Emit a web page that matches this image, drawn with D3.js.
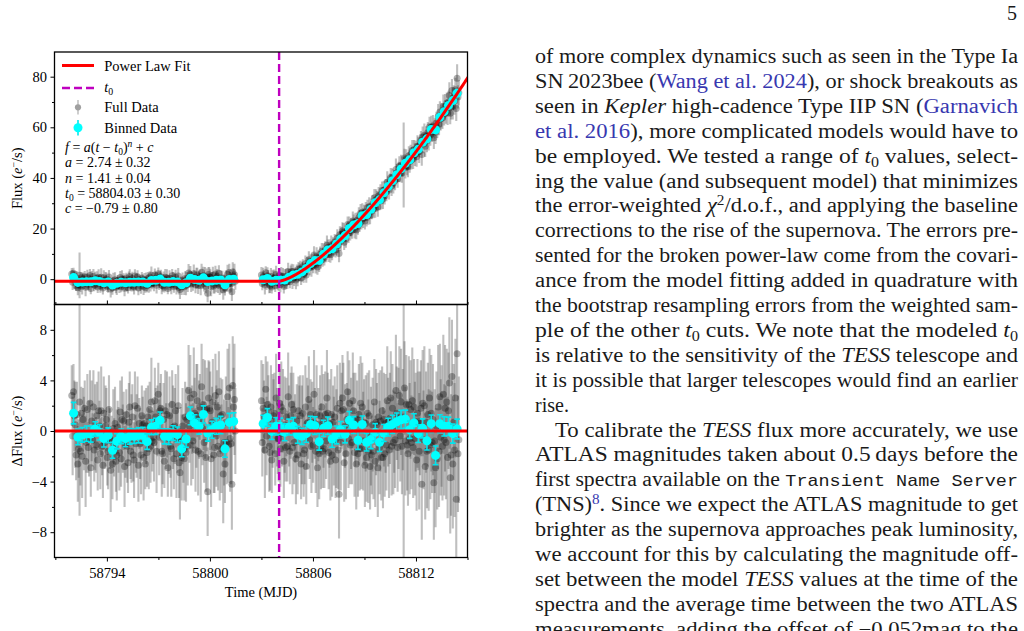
<!DOCTYPE html>
<html>
<head>
<meta charset="utf-8">
<script src="https://cdn.jsdelivr.net/npm/d3@7"></script>
<style>
  html, body { margin: 0; padding: 0; background: #fff; }
  svg { display: block; }
  text, tspan { font-family: 'Liberation Serif', 'DejaVu Serif', serif; }
  tspan.mono { font-family: 'Liberation Mono', 'DejaVu Sans Mono', monospace; }
</style>
</head>
<body>
<svg id="page" width="1024" height="631"></svg>
<script>
// ---- fit parameters (shown in the figure) ----
const fitA = 2.74, fitN = 1.41, fitT0 = 58804.03, fitC = -0.79;

// ---- full data: residuals (e-/s) and errors, one per cadence ----
const seg1Start = 58791.955, seg1Step = 0.0504;
const seg1Resid = [
  2.8,-0.4,3.1,1.2,0.5, -1.9,1.3,-2.6,-1.4,2.3, -1.6,1.4,-2.0,0.9,-0.2, 1.8,-2.4,-0.9,1.7,-1.3,
  -0.6,2.2,-2.9,0.8,-0.7, 1.9,-1.5,0.3,-1.1,1.2, -2.3,1.6,0.4,-1.8,1.6, -1.2,-2.7,1.4,-0.9,0.4,
  0.9,-2.1,-1.6,1.7,-0.6, -3.1,-0.8,-2.6,0.2,-1.3, 0.6,-2.4,-1.9,0.3,-0.7, -1.7,1.5,-2.2,0.9,-0.6,
  0.8,-2.8,-1.1,1.3,-1.2, -2.5,0.7,1.9,-1.6,-0.6, 1.1,-1.9,-2.3,2.0,-1.0, -0.4,1.8,-2.7,0.6,-1.0,
  -1.9,1.2,0.5,-2.1,0.6, -2.6,0.4,-1.7,1.1,-1.4, 1.7,-1.2,2.3,-0.8,-0.5, -0.9,2.4,1.1,-1.6,0.8,
  2.9,-0.5,1.6,1.8,-1.6, -1.8,0.9,-2.4,1.6,-0.4, 1.3,-2.9,-0.6,1.2,-1.2, -1.4,2.1,0.3,-2.2,0.4,
  1.6,-1.8,-0.7,2.0,-2.5, -3.3,-0.6,-2.1,0.4,-1.4, -2.2,1.1,-1.7,0.9,-1.2, 3.2,0.4,2.6,-1.1,0.9,
  -0.8,2.9,1.4,-1.5,1.2, 2.4,-1.6,0.9,1.9,-1.8, 3.5,0.2,2.1,-0.9,1.7, -2.1,1.7,-4.8,2.6,1.8,
  1.6,-2.2,0.7,2.3,-1.9, -1.3,2.8,-0.4,1.9,-1.2, 3.1,-1.8,1.2,-1.4,1.3, -3.4,-0.9,-2.6,0.7,-0.9,
  2.7,-1.1,3.4,-0.6,-1.0, -4.2,3.6,1.9,2.5,0.0
];
const seg1Err = [
  2.4,3.1,2.2,2.8,3.4,2.0,2.6,3.0,2.3,9.0, 2.7,2.1,3.3,2.5,2.9,2.2,3.6,2.4,2.8,2.0,
  3.0,2.6,2.3,3.2,2.1,2.9,2.5,3.4,2.2,2.7, 2.4,3.1,2.0,2.8,3.5,2.3,2.6,2.9,2.1,3.2,
  2.5,2.2,3.0,2.7,2.4,3.3,2.0,2.8,3.1,2.3, 2.9,2.4,3.6,2.1,2.6,3.0,2.5,2.2,3.4,2.7,
  2.3,3.2,2.6,2.0,2.9,2.4,3.1,2.8,2.2,3.5, 2.6,2.1,3.0,2.7,2.3,3.3,2.5,2.9,2.0,2.8,
  3.1,2.4,2.2,3.4,2.6,2.0,3.0,2.7,2.5,3.2, 2.2,2.9,3.5,2.4,2.1,3.1,2.6,2.3,3.3,2.8,
  2.5,3.0,2.2,2.7,3.6,2.4,2.9,2.1,3.2,2.6, 3.4,2.3,2.8,3.1,2.5,3.8,2.7,3.3,2.4,3.0,
  2.9,3.5,2.6,3.2,2.8,3.7,2.5,3.4,3.0,2.7, 3.3,2.8,3.9,2.6,3.1,3.6,2.9,3.4,3.2,2.7,
  3.0,3.7,2.8,3.3,4.1,2.9,3.5,3.1,2.6,3.8, 3.4,2.9,3.6,3.2,3.9,2.7,3.3,3.5,3.0,3.7,
  3.1,3.8,2.8,3.4,3.0,3.6,3.3,4.0,2.9,3.5, 3.2,3.7,3.0,3.5,2.8,3.9,3.4,3.1,3.6,3.3,
  3.8,3.0,3.5,4.2,3.2,3.6,3.9,3.1,4.4,3.4
];
const seg2Start = 58803.0, seg2Step = 0.0502;
const seg2Resid = [
  2.4,-0.9,1.8,1.1,-1.5, 3.3,-0.4,2.1,1.6,-1.2, -1.7,1.9,-2.3,0.8,1.2, 1.4,-1.8,2.6,0.3,-0.6,
  -0.6,2.2,-1.4,1.9,-0.2, 1.6,-2.4,0.5,-1.3,1.1, -1.2,2.7,0.4,-1.6,1.2, 2.1,-1.3,1.7,-0.9,0.2,
  -2.2,0.8,-1.9,1.6,0.1, 1.2,-2.6,-0.3,1.4,-1.8, -1.5,1.9,-2.8,0.6,0.7, 2.5,-0.7,1.3,-1.2,0.7,
  -1.1,2.9,0.6,-1.6,1.3, -2.9,0.5,-1.8,1.2,-1.2, 1.9,-1.6,0.8,-1.4,1.3, -0.8,2.6,1.4,-1.7,0.6,
  -2.4,1.3,-1.9,0.7,-0.8, 1.1,-2.3,-0.6,1.8,-1.5, -5.0,2.2,-0.9,1.6,2.6, 1.7,-2.5,0.4,-1.8,0.9,
  3.1,-0.6,2.2,-1.1,0.6, -0.9,2.4,1.6,-1.7,0.9, -2.6,0.9,-1.8,1.3,-1.4, 2.2,-1.4,1.9,-0.8,0.7,
  -2.7,0.6,-2.1,1.4,-1.6, 1.2,-2.8,-0.4,-1.9,0.5, -1.6,2.3,-2.4,0.7,0.5, -2.9,1.1,-1.3,0.8,-2.1,
  1.6,-2.1,0.9,-1.8,0.6, -1.1,2.4,0.7,-1.5,1.0, 2.6,-1.2,1.8,-0.9,0.3, -0.7,3.2,1.4,-1.3,1.0,
  2.8,-0.4,2.3,-1.2,0.9, 1.1,3.4,-0.8,2.1,-1.1, -1.8,2.1,-0.6,1.7,-0.9, 2.4,-1.3,1.9,-0.6,0.7,
  -2.3,1.4,0.8,-1.6,0.6, 1.8,-4.2,2.2,-0.7,2.0, -2.8,0.7,-1.6,1.3,-1.5, 2.6,-1.1,1.4,-0.9,0.9,
  -4.1,-0.8,-2.9,0.4,-2.2, 1.9,-1.6,2.7,-0.5,0.4, -1.2,2.9,-0.7,1.8,-0.9, 2.3,-2.1,1.6,3.8,-3.7,
  -1.9,4.3,-2.6,0.7,-1.5, 2.6,-5.4,6.1,-1.8,-0.7
];
const seg2Err = [
  3.2,2.7,3.5,2.9,3.8,2.6,3.1,3.4,2.8,3.6, 3.0,3.3,2.6,3.7,2.9,3.2,2.5,3.5,3.1,2.8,
  3.4,2.7,3.0,3.6,2.6,3.3,2.9,3.8,2.7,3.1, 2.8,3.5,3.2,2.6,3.4,3.0,3.7,2.9,3.3,2.7,
  3.6,2.9,3.1,2.7,3.5,3.2,2.8,3.9,3.0,3.4, 2.7,3.3,3.0,3.6,2.9,3.4,3.1,2.8,3.7,3.2,
  3.0,3.5,2.8,3.3,3.9,3.1,2.9,3.6,3.2,3.4, 3.3,2.9,3.7,3.1,3.4,3.0,3.8,3.2,2.9,3.5,
  3.1,3.6,3.3,2.9,3.5,3.2,3.0,3.9,3.4,3.1, 3.5,3.2,3.8,3.0,3.4,3.7,3.1,3.3,3.6,2.9,
  3.2,3.9,3.4,3.1,3.6,3.3,3.8,3.0,3.5,3.7, 3.6,3.1,3.4,4.0,3.3,3.7,3.2,3.5,3.9,3.4,
  3.3,3.8,3.5,3.2,4.1,3.6,3.4,3.9,3.1,3.7, 3.8,3.4,3.6,4.2,3.3,3.9,3.5,3.7,4.0,3.4,
  3.5,4.0,3.7,3.4,3.9,3.6,4.3,3.5,3.8,3.6, 3.7,3.9,3.5,4.1,3.6,3.8,4.4,3.7,3.5,4.0,
  3.9,3.6,4.2,3.8,4.0,16.8,3.7,4.3,3.9,3.6, 4.1,3.8,4.4,3.9,3.7,4.2,4.0,3.8,4.5,3.9,
  4.0,4.3,3.9,4.6,4.1,3.8,4.4,4.2,3.9,4.7, 4.2,4.0,4.5,4.1,4.8,3.9,4.3,4.6,4.0,4.4,
  4.5,4.1,4.7,4.3,4.0,4.9,4.4,4.2,4.6,4.8, 4.3,4.7,4.4,5.0,4.5,4.2,4.8,4.6,5.2,4.4,
  4.8,4.5,5.1,4.6,5.3,4.7,4.9,5.5,4.6,5.0
];

// ---- binned data (0.25 d bins) ----
const bin1Start = 58792.06, bin1Step = 0.252;
const bin1Resid = [1.41,-0.47,-0.30,-0.21,-0.24,0.16,-0.10,-0.60,-0.34,-1.52,-0.81,-0.42,-0.60,-0.42,-0.42,
  -0.34,-0.34,-0.84,0.29,0.37,0.84,-0.42,-0.44,-0.16,-0.29,-1.41,-0.63,1.20,0.63,0.37,1.31,-0.16,0.10,0.37,
  0.47,-1.41,0.68,0.76];
const bin1Err = [0.85,0.62,0.58,0.60,0.64,0.57,0.61,0.66,0.59,0.63,0.60,0.58,0.65,0.62,0.57,0.60,0.63,0.61,
  0.59,0.64,0.66,0.60,0.62,0.58,0.61,0.63,0.65,0.70,0.66,0.62,0.68,0.64,0.67,0.63,0.69,0.66,0.71,0.68];
const bin2Start = 58803.10, bin2Step = 0.251;
const bin2Resid = [0.58,1.07,-0.03,0.37,0.37,-0.10,0.31,0.37,-0.31,-0.42,-0.21,0.52,0.42,-0.84,0.21,0.42,
  -0.63,-0.31,0.10,-0.26,0.84,0.47,-0.73,0.52,-0.89,-0.68,-0.10,-0.89,-0.16,0.31,0.52,0.73,0.89,0.94,0.10,
  0.63,-0.21,0.21,-0.78,0.58,-1.93,0.58,0.37,0.37,-0.21,0.16];
const bin2Err = [0.66,0.70,0.64,0.68,0.65,0.67,0.63,0.69,0.66,0.64,0.68,0.65,0.70,0.67,0.64,0.69,0.66,0.71,
  0.65,0.68,0.70,0.67,0.72,0.66,0.69,0.71,0.68,0.73,0.67,0.70,0.72,0.69,0.74,0.71,0.68,0.73,0.70,0.75,0.72,
  0.69,0.74,0.71,0.76,0.73,0.75,0.78];

// ---- ticks ----
const xMajor = [58794, 58800, 58806, 58812];
const xMinor = [58791, 58797, 58803, 58809, 58815];
const yTopMajor = [0, 20, 40, 60, 80];
const yTopMinor = [10, 30, 50, 70];
const yBotMajor = [-8, -4, 0, 4, 8];
const yBotMinor = [-6, -2, 2, 6];

// ---- body text of the page ----
const bodyLines = [
  { j: 1, s: [["of more complex dynamics such as seen in the Type Ia"]] },
  { j: 1, s: [["SN\u20092023bee ("], ["Wang et al. 2024", "b"], ["), or shock breakouts as"]] },
  { j: 1, s: [["seen in "], ["Kepler", "i"], [" high-cadence Type IIP SN ("], ["Garnavich", "b"]] },
  { j: 1, s: [["et al. 2016", "b"], ["), more complicated models would have to"]] },
  { j: 1, s: [["be employed.  We tested a range of "], ["t", "i"], ["0", "sub"], [" values, select-"]] },
  { j: 1, s: [["ing the value (and subsequent model) that minimizes"]] },
  { j: 1, s: [["the error-weighted "], ["χ", "i"], ["2", "sup"], ["/d.o.f., and applying the baseline"]] },
  { j: 1, s: [["corrections to the rise of the supernova.  The errors pre-"]] },
  { j: 1, s: [["sented for the broken power-law come from the covari-"]] },
  { j: 1, s: [["ance from the model fitting added in quadrature with"]] },
  { j: 1, s: [["the bootstrap resampling errors from the weighted sam-"]] },
  { j: 1, s: [["ple of the other "], ["t", "i"], ["0", "sub"], [" cuts.  We note that the modeled "], ["t", "i"], ["0", "sub"]] },
  { j: 1, s: [["is relative to the sensitivity of the "], ["TESS", "i"], [" telescope and"]] },
  { j: 1, s: [["it is possible that larger telescopes would find an earlier"]] },
  { j: 0, s: [["rise."]] },
  { j: 1, ind: 1, s: [["To calibrate the "], ["TESS", "i"], [" flux more accurately, we use"]] },
  { j: 1, s: [["ATLAS magnitudes taken about 0.5\u2009days before the"]] },
  { j: 1, s: [["first spectra available on the "], ["Transient Name Server", "m"]] },
  { j: 1, s: [["(TNS)"], ["8", "sup b"], [". Since we expect the ATLAS magnitude to get"]] },
  { j: 1, s: [["brighter as the supernova approaches peak luminosity,"]] },
  { j: 1, s: [["we account for this by calculating the magnitude off-"]] },
  { j: 1, s: [["set between the model "], ["TESS", "i"], [" values at the time of the"]] },
  { j: 1, s: [["spectra and the average time between the two ATLAS"]] },
  { j: 1, s: [["measurements, adding the offset of −0.052mag to the"]] }
];

const SERIF = "'Liberation Serif', 'DejaVu Serif', serif";
const svg = d3.select('#page');

// rich text helper: italic / sub / sup / blue / mono
function addRich(textSel, segs, fs) {
  let shift = 0;
  segs.forEach(([str, st]) => {
    const flags = (st || '').split(' ');
    let target = 0, size = fs;
    if (flags.includes('sub')) { target = fs * 0.22; size = fs * 0.68; }
    if (flags.includes('sup')) { target = -fs * 0.36; size = fs * 0.68; }
    if (flags.includes('m')) size = fs * 0.85;
    const ts = textSel.append('tspan').text(str)
      .attr('dy', target - shift)
      .style('font-size', size + 'px');
    shift = target;
    if (flags.includes('i')) ts.style('font-style', 'italic');
    if (flags.includes('b')) ts.attr('fill', '#3838b0');
    if (flags.includes('m')) ts.attr('class', 'mono');
  });
}

// ---- layout of the figure ----
const L = 54.5, R = 467.5, T1 = 52, B1 = 304.5, T2 = 304.5, B2 = 557.5;
const x = d3.scaleLinear().domain([58790.95, 58815.0]).range([L, R]);
const yTop = d3.scaleLinear().domain([-10, 89.75]).range([B1, T1]);
const yBot = d3.scaleLinear().domain([-10, 10]).range([B2, T2]);

function fit(t) { return t <= fitT0 ? fitC : fitA * Math.pow(t - fitT0, fitN) + fitC; }

const full = [];
seg1Resid.forEach((r, i) => full.push({ t: seg1Start + i * seg1Step, r, e: seg1Err[i] }));
seg2Resid.forEach((r, i) => full.push({ t: seg2Start + i * seg2Step, r, e: seg2Err[i] }));
const bins = [];
bin1Resid.forEach((r, i) => bins.push({ t: bin1Start + i * bin1Step, r, e: bin1Err[i] }));
bin2Resid.forEach((r, i) => bins.push({ t: bin2Start + i * bin2Step, r, e: bin2Err[i] }));

const defs = svg.append('defs');
defs.append('clipPath').attr('id', 'clipTop').append('rect')
  .attr('x', L).attr('y', T1).attr('width', R - L).attr('height', B1 - T1);
defs.append('clipPath').attr('id', 'clipBot').append('rect')
  .attr('x', L).attr('y', T2).attr('width', R - L).attr('height', B2 - T2);

function drawPanel(clipId, yS, val) {
  const g = svg.append('g').attr('clip-path', `url(#${clipId})`);
  // full data
  g.append('g').selectAll('line').data(full).join('line')
    .attr('x1', d => x(d.t)).attr('x2', d => x(d.t))
    .attr('y1', d => yS(val(d) - d.e)).attr('y2', d => yS(val(d) + d.e))
    .attr('stroke', '#4d4d4d').attr('stroke-opacity', 0.36).attr('stroke-width', 2.1);
  g.append('g').selectAll('circle').data(full).join('circle')
    .attr('cx', d => x(d.t)).attr('cy', d => yS(val(d))).attr('r', 3.5)
    .attr('fill', '#000').attr('fill-opacity', 0.3);
  // binned data
  const gb = g.append('g').selectAll('g').data(bins).join('g');
  gb.append('line')
    .attr('x1', d => x(d.t)).attr('x2', d => x(d.t))
    .attr('y1', d => yS(val(d) - d.e)).attr('y2', d => yS(val(d) + d.e))
    .attr('stroke', '#00e5ee').attr('stroke-width', 1.6);
  [-1, 1].forEach(s => gb.append('line')
    .attr('x1', d => x(d.t) - 2.8).attr('x2', d => x(d.t) + 2.8)
    .attr('y1', d => yS(val(d) + s * d.e)).attr('y2', d => yS(val(d) + s * d.e))
    .attr('stroke', '#00e5ee').attr('stroke-width', 1.6));
  gb.append('circle').attr('cx', d => x(d.t)).attr('cy', d => yS(val(d))).attr('r', 4.5)
    .attr('fill', '#00ffff');
  return g;
}

// top panel: flux = model + residual
const gTop = drawPanel('clipTop', yTop, d => fit(d.t) + d.r);
const tSamples = d3.range(58790.95, 58815.05, 0.02).concat([fitT0]).sort((a, b) => a - b);
gTop.append('path').datum(tSamples)
  .attr('d', d3.line().x(t => x(t)).y(t => yTop(fit(t))))
  .attr('fill', 'none').attr('stroke', '#ff0000').attr('stroke-width', 3);

// bottom panel: residuals
const gBot = drawPanel('clipBot', yBot, d => d.r);
gBot.append('path').datum(x.domain())
  .attr('d', d3.line().x(t => x(t)).y(() => yBot(0)))
  .attr('fill', 'none').attr('stroke', '#ff0000').attr('stroke-width', 3);

// t0 marker across both panels
svg.append('line').attr('x1', x(fitT0)).attr('x2', x(fitT0)).attr('y1', T1).attr('y2', B2)
  .attr('stroke', '#bf00bf').attr('stroke-width', 2.4).attr('stroke-dasharray', '8,4');

// ---- axes ----
function styleAxis(g) {
  g.select('.domain').remove();
  g.attr('font-family', SERIF).attr('font-size', 14.5).attr('color', '#000');
  g.selectAll('line').attr('stroke-width', 1);
}
const fmt = d => d < 0 ? '\u2212' + Math.abs(d) : String(d);

svg.append('g').attr('transform', `translate(${L},0)`)
  .call(d3.axisLeft(yTop).tickValues(yTopMajor).tickSize(4).tickPadding(3.5).tickFormat(fmt)).call(styleAxis);
svg.append('g').attr('transform', `translate(${L},0)`)
  .call(d3.axisLeft(yTop).tickValues(yTopMinor).tickSize(2.5).tickFormat('')).call(styleAxis);
svg.append('g').attr('transform', `translate(${L},0)`)
  .call(d3.axisLeft(yBot).tickValues(yBotMajor).tickSize(4).tickPadding(3.5).tickFormat(fmt)).call(styleAxis);
svg.append('g').attr('transform', `translate(${L},0)`)
  .call(d3.axisLeft(yBot).tickValues(yBotMinor).tickSize(2.5).tickFormat('')).call(styleAxis);

svg.append('g').attr('transform', `translate(0,${B2})`)
  .call(d3.axisBottom(x).tickValues(xMajor).tickSize(4).tickPadding(6).tickFormat(d3.format('d'))).call(styleAxis);
svg.append('g').attr('transform', `translate(0,${B2})`)
  .call(d3.axisBottom(x).tickValues(xMinor).tickSize(2.5).tickFormat('')).call(styleAxis);
svg.append('g').attr('transform', `translate(0,${B1})`)
  .call(d3.axisTop(x).tickValues(xMajor).tickSize(4).tickFormat('')).call(styleAxis);
svg.append('g').attr('transform', `translate(0,${B1})`)
  .call(d3.axisTop(x).tickValues(xMinor).tickSize(2.5).tickFormat('')).call(styleAxis);

// frames
[[T1, B1], [T2, B2]].forEach(([a, b]) => svg.append('rect')
  .attr('x', L).attr('y', a).attr('width', R - L).attr('height', b - a)
  .attr('fill', 'none').attr('stroke', '#000').attr('stroke-width', 1.3));

// axis labels
const yl1 = svg.append('text').attr('transform', `translate(22,${(T1 + B1) / 2}) rotate(-90)`)
  .attr('text-anchor', 'middle').attr('font-size', 14.5);
addRich(yl1, [["Flux ("], ["e", "i"], ["\u2212", "sup"], ["/s)"]], 14.5);
const yl2 = svg.append('text').attr('transform', `translate(22,${(T2 + B2) / 2}) rotate(-90)`)
  .attr('text-anchor', 'middle').attr('font-size', 14.5);
addRich(yl2, [["\u0394Flux ("], ["e", "i"], ["\u2212", "sup"], ["/s)"]], 14.5);
svg.append('text').attr('x', (L + R) / 2).attr('y', 597).attr('text-anchor', 'middle')
  .attr('font-size', 14.5).text('Time (MJD)');

// ---- legend ----
const lg = svg.append('g').attr('font-size', 14.5);
lg.append('line').attr('x1', 62).attr('x2', 94).attr('y1', 65.5).attr('y2', 65.5)
  .attr('stroke', '#ff0000').attr('stroke-width', 3);
lg.append('line').attr('x1', 62).attr('x2', 94).attr('y1', 88).attr('y2', 88)
  .attr('stroke', '#bf00bf').attr('stroke-width', 2.4).attr('stroke-dasharray', '8,4');
lg.append('line').attr('x1', 78).attr('x2', 78).attr('y1', 100).attr('y2', 114.5)
  .attr('stroke', '#9a9a9a').attr('stroke-opacity', 0.6).attr('stroke-width', 1.6);
lg.append('circle').attr('cx', 78).attr('cy', 107.3).attr('r', 3.1).attr('fill', '#a0a0a0');
lg.append('line').attr('x1', 78).attr('x2', 78).attr('y1', 120).attr('y2', 135.5)
  .attr('stroke', '#00e5ee').attr('stroke-width', 1.6);
lg.append('circle').attr('cx', 78).attr('cy', 127.7).attr('r', 4.5).attr('fill', '#00ffff');
lg.append('text').attr('x', 104.3).attr('y', 70.5).text('Power Law Fit');
addRich(lg.append('text').attr('x', 104.3).attr('y', 92), [["t", "i"], ["0", "sub"]], 14.5);
lg.append('text').attr('x', 104.3).attr('y', 112).text('Full Data');
lg.append('text').attr('x', 104.3).attr('y', 132.5).text('Binned Data');

const formulaLines = [
  [["f", "i"], [" = "], ["a", "i"], ["("], ["t", "i"], [" \u2212 "], ["t", "i"], ["0", "sub"], [")"], ["n", "sup i"], [" + "], ["c", "i"]],
  [["a", "i"], [" = 2.74 \u00b1 0.32"]],
  [["n", "i"], [" = 1.41 \u00b1 0.04"]],
  [["t", "i"], ["0", "sub"], [" = 58804.03 \u00b1 0.30"]],
  [["c", "i"], [" = \u22120.79 \u00b1 0.80"]]
];
formulaLines.forEach((segs, i) => {
  addRich(lg.append('text').attr('x', 65).attr('y', 152 + i * 15.3), segs, 14);
});

// ---- page text ----
svg.append('text').attr('x', 1017).attr('y', 20).attr('text-anchor', 'end')
  .attr('font-size', 20).attr('fill', '#1a1a1a').text('5');

const colLeft = 535, colRight = 1018, lineGap = 24.9, firstBase = 63;
bodyLines.forEach((ln, i) => {
  const x0 = colLeft + (ln.ind ? 20 : 0);
  const t = svg.append('text').attr('x', x0).attr('y', firstBase + i * lineGap)
    .attr('font-size', 20).attr('fill', '#1a1a1a');
  if (ln.j) t.attr('textLength', colRight - x0).attr('lengthAdjust', 'spacingAndGlyphs');
  addRich(t, ln.s, 20);
});
</script>
</body>
</html>
